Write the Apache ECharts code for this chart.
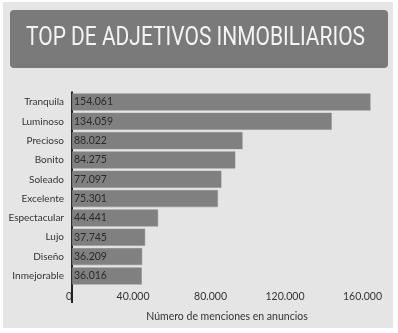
<!DOCTYPE html>
<html><head><meta charset="utf-8">
<script src="https://cdn.jsdelivr.net/npm/echarts@6/dist/echarts.min.js"></script>
<style>html,body{margin:0;padding:0;background:#fff}#c{width:398px;height:333px}</style>
</head><body><div id="c"></div>
<script>
const categories = ['Tranquila','Luminoso','Precioso','Bonito','Soleado','Excelente','Espectacular','Lujo','Diseño','Inmejorable'];
const values = [154061,134059,88022,84275,77097,75301,44441,37745,36209,36016];
const tickLabels = {0:'0',40000:'40.000',80000:'80.000',120000:'120.000',160000:'160.000'};
const titleText = 'TOP DE ADJETIVOS INMOBILIARIOS';
const axisTitle = 'Número de menciones en anuncios';

function fmt(n){return String(n).replace(/\B(?=(\d{3})+(?!\d))/g,'.');}

const TITLE_FONT = 'normal 25px Roboto';
const ctx = document.createElement('canvas').getContext('2d');
ctx.font = TITLE_FONT;
const titleW = ctx.measureText(titleText).width;
const titleScale = 339 / titleW;

const chart = echarts.init(document.getElementById('c'));
const FONT = 'Lato';
chart.setOption({
  backgroundColor:'#ffffff',
  animation:false,
  graphic:[
    {type:'rect',z:-10,shape:{x:3,y:2,width:390,height:326},style:{fill:'#e5e5e5'}},
    {type:'rect',z:-9,shape:{x:10,y:10,width:378,height:58,r:4},style:{fill:'#7a7a7a'}},
    {type:'line',z:5,shape:{x1:72,y1:285,x2:72,y2:303},style:{stroke:'#222',lineWidth:2}},
    {type:'text',z:5,x:26,y:39,scaleX:titleScale,
      style:{text:titleText,font:TITLE_FONT,fill:'#f4f4f4',textAlign:'left',textVerticalAlign:'middle'}}
  ],
  grid:{left:72,right:16,top:92.3,bottom:47.4,containLabel:false},
  xAxis:{type:'value',min:0,max:160000,interval:40000,
    axisLine:{show:false},axisTick:{show:false},splitLine:{show:false},
    axisLabel:{align:'right',margin:6,fontFamily:FONT,fontSize:10.5,color:'#333',
      formatter:v=>tickLabels[v]!==undefined?tickLabels[v]:fmt(v)},
    name:axisTitle,nameLocation:'middle',nameGap:26,
    nameTextStyle:{fontFamily:FONT,fontSize:10.5,color:'#333'}},
  yAxis:{type:'category',data:categories,inverse:true,
    axisLine:{show:true,lineStyle:{color:'#222',width:2}},axisTick:{show:false},
    axisLabel:{margin:8,fontFamily:FONT,fontSize:10,color:'#333'}},
  series:[{type:'bar',data:values,barCategoryGap:'12%',
    itemStyle:{color:'#808080',borderColor:'#8c8c8c',borderWidth:0.5},
    label:{show:true,position:'insideLeft',distance:2,fontFamily:FONT,fontSize:10.5,color:'#2a2a2a',
      formatter:p=>fmt(p.value)}}]
});
</script></body></html>
